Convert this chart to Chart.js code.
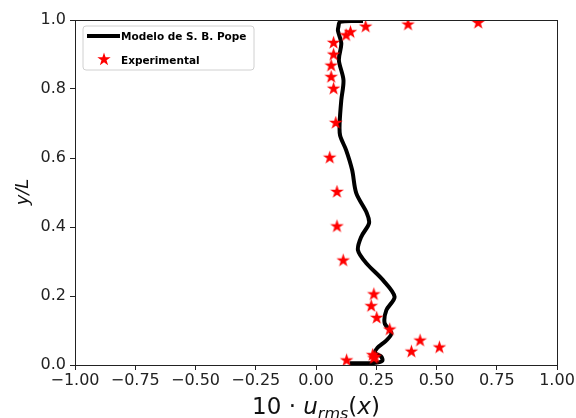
<!DOCTYPE html>
<html>
<head>
<meta charset="utf-8">
<script src="https://cdn.jsdelivr.net/npm/chart.js@4.4.1/dist/chart.umd.min.js"></script>
<style>
  html, body { margin: 0; padding: 0; background: #fff; }
  #wrap { width: 576px; height: 418px; }
</style>
</head>
<body>
<div id="wrap"><canvas id="myChart" width="576" height="418"></canvas></div>
<script>
// model profile (thick black line), ordered from top of channel to bottom
const modelX = [0.195, 0.10, 0.093, 0.091, 0.105, 0.095, 0.114, 0.105, 0.098, 0.10, 0.125, 0.150, 0.167, 0.211, 0.220, 0.188, 0.174, 0.209, 0.278, 0.326, 0.292, 0.285, 0.313, 0.29, 0.255, 0.245, 0.27, 0.275, 0.24, 0.139];
const modelY = [0.997, 0.995, 0.98, 0.969, 0.932, 0.884, 0.826, 0.768, 0.70, 0.665, 0.623, 0.565, 0.498, 0.440, 0.411, 0.372, 0.333, 0.295, 0.246, 0.198, 0.159, 0.121, 0.092, 0.07, 0.05, 0.035, 0.025, 0.012, 0.006, 0.005];

// experimental points (red stars)
const expX = [0.127, 0.24, 0.235, 0.245, 0.396, 0.432, 0.512, 0.306, 0.252, 0.229, 0.24, 0.113, 0.087, 0.087, 0.057, 0.082, 0.073, 0.063, 0.063, 0.073, 0.073, 0.125, 0.143, 0.206, 0.382, 0.673];
const expY = [0.0145, 0.021, 0.03, 0.025, 0.04, 0.072, 0.052, 0.104, 0.138, 0.172, 0.206, 0.304, 0.403, 0.503, 0.602, 0.703, 0.802, 0.836, 0.869, 0.901, 0.935, 0.957, 0.966, 0.982, 0.988, 0.993];

const xTicks = [-1.0, -0.75, -0.5, -0.25, 0.0, 0.25, 0.5, 0.75, 1.0];
const yTicks = [0.0, 0.2, 0.4, 0.6, 0.8, 1.0];

const labels = ['Modelo de S. B. Pope', 'Experimental'];

const FONT = '"DejaVu Sans", sans-serif';

function starPath(ctx, cx, cy, r) {
  const ri = r * 0.381966;
  ctx.beginPath();
  for (let i = 0; i < 10; i++) {
    const rad = i % 2 === 0 ? r : ri;
    const a = -Math.PI / 2 + i * Math.PI / 5;
    const px = cx + rad * Math.cos(a), py = cy + rad * Math.sin(a);
    if (i === 0) ctx.moveTo(px, py); else ctx.lineTo(px, py);
  }
  ctx.closePath();
}

// filled star marker like matplotlib '*'
const starImg = document.createElement('canvas');
starImg.width = 15; starImg.height = 15;
(function () {
  const c = starImg.getContext('2d');
  starPath(c, 7.5, 8, 7.2);
  c.fillStyle = '#ff0000';
  c.fill();
})();

const modelData = modelX.map((x, i) => ({ x: x, y: modelY[i] }));
const expData = expX.map((x, i) => ({ x: x, y: expY[i] }));

const frameAndText = {
  id: 'frameAndText',
  afterDraw(chart) {
    const ctx = chart.ctx;
    const a = chart.chartArea;
    ctx.save();
    // full box around the axes
    ctx.strokeStyle = '#222';
    ctx.lineWidth = 1;
    ctx.strokeRect(Math.round(a.left) + 0.5, Math.round(a.top) + 0.5, Math.round(a.right - a.left), Math.round(a.bottom - a.top));

    // legend box
    const lx = 83, ly = 26, lw = 171, lh = 44, r = 3;
    ctx.beginPath();
    ctx.moveTo(lx + r, ly);
    ctx.arcTo(lx + lw, ly, lx + lw, ly + lh, r);
    ctx.arcTo(lx + lw, ly + lh, lx, ly + lh, r);
    ctx.arcTo(lx, ly + lh, lx, ly, r);
    ctx.arcTo(lx, ly, lx + lw, ly, r);
    ctx.closePath();
    ctx.fillStyle = 'rgba(255,255,255,0.8)';
    ctx.fill();
    ctx.strokeStyle = '#d0d0d0';
    ctx.stroke();

    ctx.strokeStyle = '#000';
    ctx.lineWidth = 4;
    ctx.beginPath();
    ctx.moveTo(87, 36);
    ctx.lineTo(120, 36);
    ctx.stroke();
    starPath(ctx, 104, 59.5, 7);
    ctx.fillStyle = '#ff0000';
    ctx.fill();

    ctx.fillStyle = '#000';
    ctx.font = 'bold 10.5px ' + FONT;
    ctx.textBaseline = 'middle';
    ctx.textAlign = 'left';
    ctx.fillText(labels[0], 121, 37);
    ctx.fillText(labels[1], 121, 61);

    // y axis title
    ctx.save();
    ctx.translate(23, 192);
    ctx.rotate(-Math.PI / 2);
    ctx.textAlign = 'center';
    ctx.textBaseline = 'middle';
    ctx.font = 'italic 18px ' + FONT;
    ctx.fillStyle = '#111';
    ctx.fillText('y/L', 0, 0);
    ctx.restore();

    // x axis title: 10 · u_rms(x)
    const parts = [
      { t: '10 \u00b7 ', f: '23px ' + FONT, dy: 0 },
      { t: 'u', f: 'italic 23px ' + FONT, dy: 0 },
      { t: 'rms', f: 'italic 16px ' + FONT, dy: 5 },
      { t: '(', f: '23px ' + FONT, dy: 0 },
      { t: 'x', f: 'italic 23px ' + FONT, dy: 0 },
      { t: ')', f: '23px ' + FONT, dy: 0 }
    ];
    let total = 0;
    parts.forEach(p => { ctx.font = p.f; p.w = ctx.measureText(p.t).width; total += p.w; });
    let x = (a.left + a.right) / 2 - total / 2;
    ctx.textBaseline = 'alphabetic';
    ctx.fillStyle = '#111';
    parts.forEach(p => { ctx.font = p.f; ctx.fillText(p.t, x, 414 + p.dy); x += p.w; });
    ctx.restore();
  }
};

const config = {
  type: 'scatter',
  data: {
    datasets: [
      {
        label: labels[0],
        data: modelData,
        showLine: true,
        borderColor: '#000',
        borderWidth: 4,
        pointRadius: 0,
        tension: 0.3,
        order: 2
      },
      {
        label: labels[1],
        data: expData,
        pointStyle: starImg,
        pointRadius: 7,
        order: 1
      }
    ]
  },
  options: {
    responsive: false,
    animation: false,
    layout: { padding: { top: 20, right: 19, left: 0, bottom: 0 } },
    plugins: {
      legend: { display: false },
      tooltip: { enabled: false }
    },
    scales: {
      x: {
        type: 'linear',
        min: -1,
        max: 1,
        afterBuildTicks: s => { s.ticks = xTicks.map(v => ({ value: v })); },
        afterFit: s => { s.height = 53; },
        ticks: {
          color: '#222',
          font: { family: FONT, size: 16 },
          padding: 1,
          maxRotation: 0,
          callback: v => v.toFixed(2).replace('-', '\u2212')
        },
        grid: { drawOnChartArea: false, drawTicks: true, tickLength: 5, color: '#222' },
        border: { color: '#222' }
      },
      y: {
        type: 'linear',
        min: 0,
        max: 1,
        afterBuildTicks: s => { s.ticks = yTicks.map(v => ({ value: v })); },
        afterFit: s => { s.width = 75; },
        ticks: {
          color: '#222',
          font: { family: FONT, size: 16 },
          padding: 4,
          callback: v => v.toFixed(1)
        },
        grid: { drawOnChartArea: false, drawTicks: true, tickLength: 5, color: '#222' },
        border: { color: '#222' }
      }
    }
  },
  plugins: [frameAndText]
};

const myChart = new Chart(document.getElementById('myChart'), config);
</script>
</body>
</html>
